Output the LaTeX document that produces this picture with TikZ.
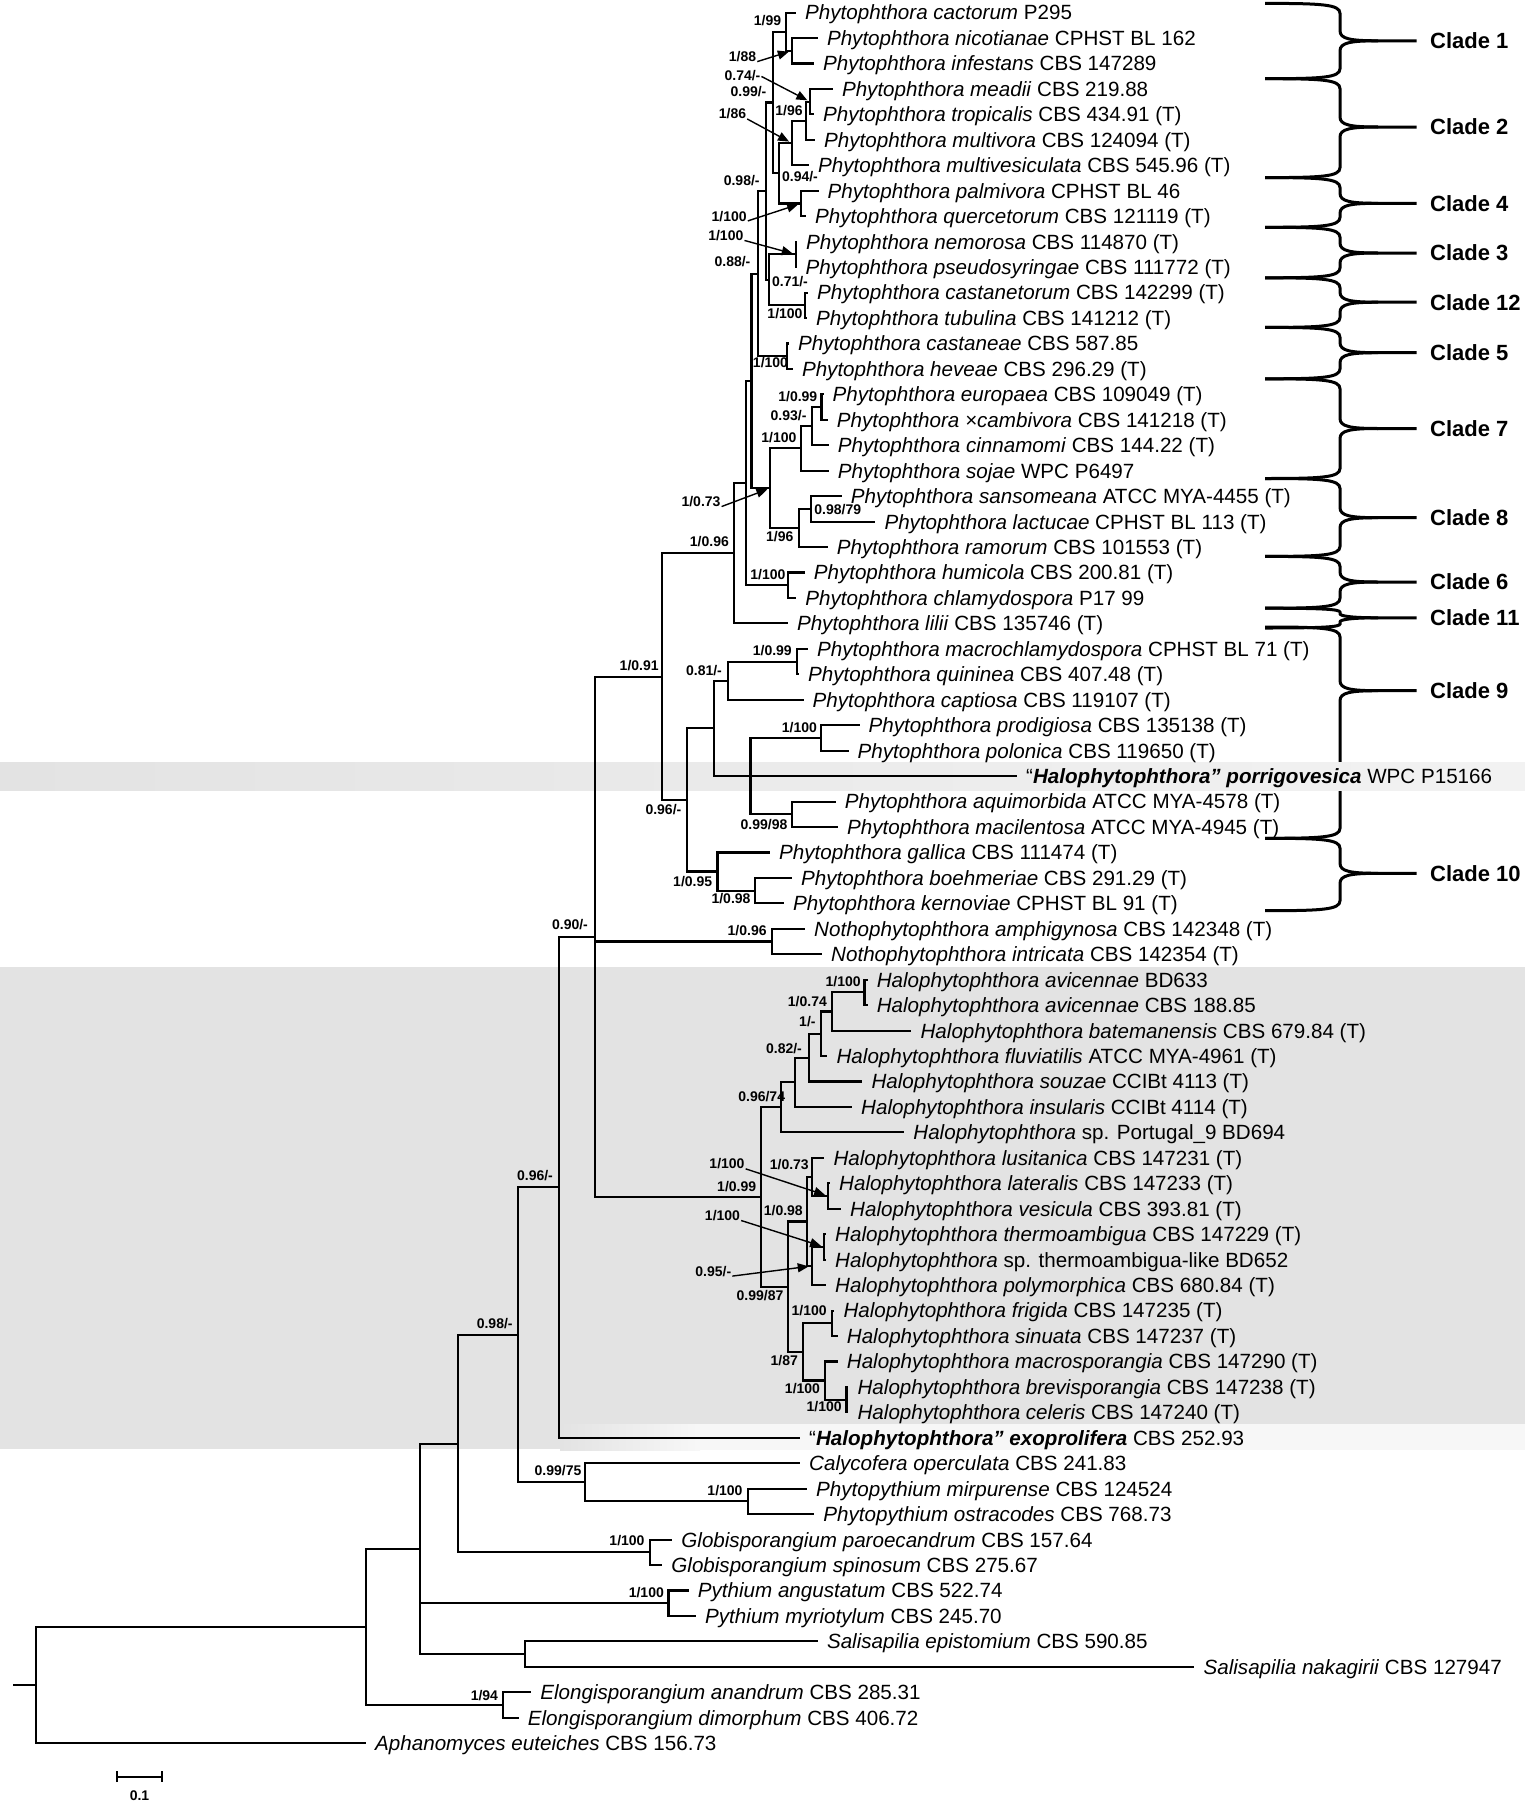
\documentclass[tikz,border=0pt]{standalone}
\usepackage{fontspec}
\setmainfont{Liberation Sans}
\usepackage{tikz}
\usetikzlibrary{arrows.meta}

\tikzset{
  br/.style={line width=2.1pt},
  taxon/.style={anchor=west, inner xsep=9pt, inner ysep=0pt, text height=14.8pt, text depth=0pt, font=\fontsize{20.6}{24}\selectfont},
  sup/.style={inner sep=0pt, text height=10pt, text depth=0pt, font=\bfseries\fontsize{14}{16}\selectfont},
  ptr/.style={-{Triangle[length=11pt,width=9pt]}, line width=1.4pt, shorten >=3pt, shorten <=1pt},
  brc/.style={line width=3pt},
  clade/.style={anchor=west, inner sep=0pt, font=\bfseries\fontsize{22}{24}\selectfont},
  band/.style={fill=gray!22}
}

\begin{document}
\begin{tikzpicture}[x=1pt,y=-1pt]
\useasboundingbox (0,0) rectangle (1525,1801);

        % Clade braces
\foreach \t/\m/\b/\c/\r in {3.4/40.8/78.7/1/10, 78.7/127/177.6/2/10, 177.6/203.3/227.3/4/10,
    227.3/253/277.8/3/10, 277.8/302.2/327.4/12/10, 327.4/352.7/378.8/5/10,
    378.8/428.5/478.5/7/10, 478.5/517.7/556.4/8/10, 556.4/582/608.2/6/10,
    608.2/617.8/628/11/4, 627/690.7/838.3/9/10, 838.3/873.3/910.7/10/10}{
  \draw[brc] (1265,\t) .. controls (1322,\t) and (1340,\t+1) .. (1340,\t+\r) -- (1340,\m-\r)
     .. controls (1340,\m-2) and (1350,\m) .. (1378,\m) -- (1416.7,\m);
  \draw[brc] (1265,\b) .. controls (1322,\b) and (1340,\b-1) .. (1340,\b-\r) -- (1340,\m+\r)
     .. controls (1340,\m+2) and (1350,\m) .. (1378,\m);
  \node[clade] (cl\c) at (1430,\m) {Clade \c};
}

        % Shaded bands
\shade[left color=gray!22, right color=gray!10] (0,762) rectangle (1525,790);
\fill[band] (0,967) rectangle (1525,1449);
\shade[left color=gray!22, right color=gray!6] (560,1424) rectangle (700,1450);
\fill[gray!6] (700,1424) rectangle (1525,1450);

        % Taxa
\node[taxon] (cact) at (796,12.6) {\textit{Phytophthora cactorum} P295};
\node[taxon] (nico) at (817.8,38.05) {\textit{Phytophthora nicotianae} CPHST BL 162};
\node[taxon] (infe) at (814,63.5) {\textit{Phytophthora infestans} CBS 147289};
\node[taxon] (mead) at (832.8,88.95) {\textit{Phytophthora meadii} CBS 219.88};
\node[taxon] (trop) at (814,114.4) {\textit{Phytophthora tropicalis} CBS 434.91 (T)};
\node[taxon] (mvor) at (815,139.85) {\textit{Phytophthora multivora} CBS 124094 (T)};
\node[taxon] (mves) at (809,165.3) {\textit{Phytophthora multivesiculata} CBS 545.96 (T)};
\node[taxon] (palm) at (818.5,190.75) {\textit{Phytophthora palmivora} CPHST BL 46};
\node[taxon] (quer) at (806,216.2) {\textit{Phytophthora quercetorum} CBS 121119 (T)};
\node[taxon] (nemo) at (797,241.65) {\textit{Phytophthora nemorosa} CBS 114870 (T)};
\node[taxon] (pseu) at (796.4,267.1) {\textit{Phytophthora pseudosyringae} CBS 111772 (T)};
\node[taxon] (cane) at (808,292.55) {\textit{Phytophthora castanetorum} CBS 142299 (T)};
\node[taxon] (tubu) at (807,318) {\textit{Phytophthora tubulina} CBS 141212 (T)};
\node[taxon] (cast) at (789,343.45) {\textit{Phytophthora castaneae} CBS 587.85};
\node[taxon] (heve) at (792.8,368.9) {\textit{Phytophthora heveae} CBS 296.29 (T)};
\node[taxon] (euro) at (823.5,394.35) {\textit{Phytophthora europaea} CBS 109049 (T)};
\node[taxon] (camb) at (827.7,419.8) {\textit{Phytophthora ×cambivora} CBS 141218 (T)};
\node[taxon] (cinn) at (828.6,445.25) {\textit{Phytophthora cinnamomi} CBS 144.22 (T)};
\node[taxon] (soja) at (828.6,470.7) {\textit{Phytophthora sojae} WPC P6497};
\node[taxon] (sans) at (841.6,496.15) {\textit{Phytophthora sansomeana} ATCC MYA-4455 (T)};
\node[taxon] (lact) at (875.3,521.6) {\textit{Phytophthora lactucae} CPHST BL 113 (T)};
\node[taxon] (ramo) at (827.7,547.05) {\textit{Phytophthora ramorum} CBS 101553 (T)};
\node[taxon] (humi) at (804.6,572.5) {\textit{Phytophthora humicola} CBS 200.81 (T)};
\node[taxon] (chla) at (796.2,597.95) {\textit{Phytophthora chlamydospora} P17 99};
\node[taxon] (lili) at (787.8,623.4) {\textit{Phytophthora lilii} CBS 135746 (T)};
\node[taxon] (macr) at (808,648.85) {\textit{Phytophthora macrochlamydospora} CPHST BL 71 (T)};
\node[taxon] (quin) at (799,674.3) {\textit{Phytophthora quininea} CBS 407.48 (T)};
\node[taxon] (capt) at (803.5,699.75) {\textit{Phytophthora captiosa} CBS 119107 (T)};
\node[taxon] (prod) at (859.5,725.2) {\textit{Phytophthora prodigiosa} CBS 135138 (T)};
\node[taxon] (polo) at (848.5,750.65) {\textit{Phytophthora polonica} CBS 119650 (T)};
\node[taxon] (porr) at (1017,776.1) {“\textbf{\textit{Halophytophthora” porrigovesica}} WPC P15166};
\node[taxon] (aqui) at (835.7,801.55) {\textit{Phytophthora aquimorbida} ATCC MYA-4578 (T)};
\node[taxon] (maci) at (838,827) {\textit{Phytophthora macilentosa} ATCC MYA-4945 (T)};
\node[taxon] (gall) at (770,852.45) {\textit{Phytophthora gallica} CBS 111474 (T)};
\node[taxon] (boeh) at (792,877.9) {\textit{Phytophthora boehmeriae} CBS 291.29 (T)};
\node[taxon] (kern) at (783.8,903.35) {\textit{Phytophthora kernoviae} CPHST BL 91 (T)};
\node[taxon] (amph) at (805,928.8) {\textit{Nothophytophthora amphigynosa} CBS 142348 (T)};
\node[taxon] (intr) at (822,954.25) {\textit{Nothophytophthora intricata} CBS 142354 (T)};
\node[taxon] (avi1) at (867.6,979.7) {\textit{Halophytophthora avicennae} BD633};
\node[taxon] (avi2) at (867.6,1005.15) {\textit{Halophytophthora avicennae} CBS 188.85};
\node[taxon] (bate) at (911.4,1030.6) {\textit{Halophytophthora batemanensis} CBS 679.84 (T)};
\node[taxon] (fluv) at (827.4,1056.05) {\textit{Halophytophthora fluviatilis} ATCC MYA-4961 (T)};
\node[taxon] (souz) at (862.3,1081.5) {\textit{Halophytophthora souzae} CCIBt 4113 (T)};
\node[taxon] (insu) at (852,1106.95) {\textit{Halophytophthora insularis} CCIBt 4114 (T)};
\node[taxon] (port) at (904.2,1132.4) {\textit{Halophytophthora} sp. Portugal\_9 BD694};
\node[taxon] (lusi) at (824.3,1157.85) {\textit{Halophytophthora lusitanica} CBS 147231 (T)};
\node[taxon] (late) at (830,1183.3) {\textit{Halophytophthora lateralis} CBS 147233 (T)};
\node[taxon] (vesi) at (841,1208.75) {\textit{Halophytophthora vesicula} CBS 393.81 (T)};
\node[taxon] (ther) at (826,1234.2) {\textit{Halophytophthora thermoambigua} CBS 147229 (T)};
\node[taxon] (thel) at (826,1259.65) {\textit{Halophytophthora} sp. thermoambigua-like BD652};
\node[taxon] (poly) at (826,1285.1) {\textit{Halophytophthora polymorphica} CBS 680.84 (T)};
\node[taxon] (frig) at (834.3,1310.55) {\textit{Halophytophthora frigida} CBS 147235 (T)};
\node[taxon] (sinu) at (837.7,1336) {\textit{Halophytophthora sinuata} CBS 147237 (T)};
\node[taxon] (masp) at (837.7,1361.45) {\textit{Halophytophthora macrosporangia} CBS 147290 (T)};
\node[taxon] (brev) at (848.4,1386.9) {\textit{Halophytophthora brevisporangia} CBS 147238 (T)};
\node[taxon] (cele) at (848.4,1412.35) {\textit{Halophytophthora celeris} CBS 147240 (T)};
\node[taxon] (exop) at (800,1437.8) {“\textbf{\textit{Halophytophthora” exoprolifera}} CBS 252.93};
\node[taxon] (caly) at (800,1463.25) {\textit{Calycofera operculata} CBS 241.83};
\node[taxon] (mirp) at (807,1488.7) {\textit{Phytopythium mirpurense} CBS 124524};
\node[taxon] (ostr) at (814.2,1514.15) {\textit{Phytopythium ostracodes} CBS 768.73};
\node[taxon] (paro) at (672.2,1539.6) {\textit{Globisporangium paroecandrum} CBS 157.64};
\node[taxon] (spin) at (662.2,1565.05) {\textit{Globisporangium spinosum} CBS 275.67};
\node[taxon] (angu) at (688.7,1590.5) {\textit{Pythium angustatum} CBS 522.74};
\node[taxon] (myri) at (696,1615.95) {\textit{Pythium myriotylum} CBS 245.70};
\node[taxon] (epis) at (817.8,1641.4) {\textit{Salisapilia epistomium} CBS 590.85};
\node[taxon] (naka) at (1194.4,1666.85) {\textit{Salisapilia nakagirii} CBS 127947};
\node[taxon] (anan) at (531.2,1692.3) {\textit{Elongisporangium anandrum} CBS 285.31};
\node[taxon] (dimo) at (518.7,1717.75) {\textit{Elongisporangium dimorphum} CBS 406.72};
\node[taxon] (apha) at (366,1743.2) {\textit{Aphanomyces euteiches} CBS 156.73};

        % Internal nodes
\coordinate (n1b) at (791.7,50.8);
\coordinate (n1) at (785.7,31.7);
\coordinate (n2c) at (810,101.7);
\coordinate (n2b) at (805.7,120.8);
\coordinate (n2) at (791.7,143.05);
\coordinate (n4) at (801,203.5);
\coordinate (n24) at (779.3,173.3);
\coordinate (n124) at (772.7,102.5);
\coordinate (n3) at (795.7,254.4);
\coordinate (n12) at (805,305.3);
\coordinate (n312) at (769.3,279.85);
\coordinate (nL) at (766,191.2);
\coordinate (n5) at (787,356.2);
\coordinate (nU) at (758.3,273.7);
\coordinate (n7c) at (821.5,407.1);
\coordinate (n7b) at (812.3,426.2);
\coordinate (n7) at (801,448.4);
\coordinate (n8b) at (810.7,508.9);
\coordinate (n8) at (798.9,528);
\coordinate (n78) at (770.3,488.2);
\coordinate (nT) at (751.5,380.95);
\coordinate (n6) at (788.4,585.2);
\coordinate (nQ) at (746.3,483.1);
\coordinate (nP) at (733.6,553.25);
\coordinate (n9c) at (797,661.6);
\coordinate (n9b) at (727.6,680.7);
\coordinate (n9e) at (820.8,737.9);
\coordinate (n9f) at (791.9,814.3);
\coordinate (n9d) at (750.5,776.1);
\coordinate (n9) at (713.8,728.4);
\coordinate (n10b) at (755.1,890.6);
\coordinate (n10) at (717.5,871.5);
\coordinate (n910) at (687.3,800);
\coordinate (nPhy) at (662,676.6);
\coordinate (nNoth) at (772.1,941.5);
\coordinate (h1) at (864.5,992.4);
\coordinate (h2) at (832,1011.5);
\coordinate (h3) at (820.8,1033.8);
\coordinate (h4) at (808.8,1057.6);
\coordinate (h5) at (795.4,1082.3);
\coordinate (h6) at (780.6,1107.35);
\coordinate (h8) at (828,1196);
\coordinate (h7) at (811.7,1176.9);
\coordinate (h10) at (824,1246.9);
\coordinate (h9) at (811.7,1266);
\coordinate (hB1) at (806.7,1221.5);
\coordinate (h12) at (831.7,1323.3);
\coordinate (h14) at (846.5,1399.6);
\coordinate (h13) at (825,1380.5);
\coordinate (h11) at (802.7,1351.9);
\coordinate (hZ) at (788.3,1286.7);
\coordinate (nHalo) at (761,1197);
\coordinate (nLL) at (595,936.8);
\coordinate (nMM) at (559.3,1187.3);
\coordinate (nPhp) at (748,1501.4);
\coordinate (nOO) at (585,1482.3);
\coordinate (nNN) at (518,1334.8);
\coordinate (nGlo) at (650,1552.3);
\coordinate (nPP) at (458,1443.6);
\coordinate (nPyt) at (668.5,1603.2);
\coordinate (nSal) at (524.6,1654.1);
\coordinate (nRR) at (419.6,1548.9);
\coordinate (nElo) at (503.1,1705);
\coordinate (nSS) at (366,1627);
\coordinate (nRoot) at (35.7,1685.1);
\coordinate (stub) at (13.4,1685.1);

        % Branches
\draw[br] (n1) |- (cact.west) (n1) |- (n1b);
\draw[br] (n1b) |- (nico.west) (n1b) |- (infe.west);
\draw[br] (n2c) |- (mead.west) (n2c) |- (trop.west);
\draw[br] (n2b) |- (n2c) (n2b) |- (mvor.west);
\draw[br] (n2) |- (n2b) (n2) |- (mves.west);
\draw[br] (n4) |- (palm.west) (n4) |- (quer.west);
\draw[br] (n24) |- (n2) (n24) |- (n4);
\draw[br] (n124) |- (n1) (n124) |- (n24);
\draw[br] (n3) |- (nemo.west) (n3) |- (pseu.west);
\draw[br] (n12) |- (cane.west) (n12) |- (tubu.west);
\draw[br] (n312) |- (n3) (n312) |- (n12);
\draw[br] (nL) |- (n124) (nL) |- (n312);
\draw[br] (n5) |- (cast.west) (n5) |- (heve.west);
\draw[br] (nU) |- (nL) (nU) |- (n5);
\draw[br] (n7c) |- (euro.west) (n7c) |- (camb.west);
\draw[br] (n7b) |- (n7c) (n7b) |- (cinn.west);
\draw[br] (n7) |- (n7b) (n7) |- (soja.west);
\draw[br] (n8b) |- (sans.west) (n8b) |- (lact.west);
\draw[br] (n8) |- (n8b) (n8) |- (ramo.west);
\draw[br] (n78) |- (n7) (n78) |- (n8);
\draw[br] (nT) |- (nU) (nT) |- (n78);
\draw[br] (n6) |- (humi.west) (n6) |- (chla.west);
\draw[br] (nQ) |- (nT) (nQ) |- (n6);
\draw[br] (nP) |- (nQ) (nP) |- (lili.west);
\draw[br] (n9c) |- (macr.west) (n9c) |- (quin.west);
\draw[br] (n9b) |- (n9c) (n9b) |- (capt.west);
\draw[br] (n9e) |- (prod.west) (n9e) |- (polo.west);
\draw[br] (n9f) |- (aqui.west) (n9f) |- (maci.west);
\draw[br] (n9d) |- (n9e) (n9d) |- (n9f);
\draw[br] (n9) |- (n9b) (n9) |- (porr.west) (n9) |- (n9d);
\draw[br] (n10b) |- (boeh.west) (n10b) |- (kern.west);
\draw[br] (n10) |- (gall.west) (n10) |- (n10b);
\draw[br] (n910) |- (n9) (n910) |- (n10);
\draw[br] (nPhy) |- (nP) (nPhy) |- (n910);
\draw[br] (nNoth) |- (amph.west) (nNoth) |- (intr.west);
\draw[br] (h1) |- (avi1.west) (h1) |- (avi2.west);
\draw[br] (h2) |- (h1) (h2) |- (bate.west);
\draw[br] (h3) |- (h2) (h3) |- (fluv.west);
\draw[br] (h4) |- (h3) (h4) |- (souz.west);
\draw[br] (h5) |- (h4) (h5) |- (insu.west);
\draw[br] (h6) |- (h5) (h6) |- (port.west);
\draw[br] (h8) |- (late.west) (h8) |- (vesi.west);
\draw[br] (h7) |- (lusi.west) (h7) |- (h8);
\draw[br] (h10) |- (ther.west) (h10) |- (thel.west);
\draw[br] (h9) |- (h10) (h9) |- (poly.west);
\draw[br] (hB1) |- (h7) (hB1) |- (h9);
\draw[br] (h12) |- (frig.west) (h12) |- (sinu.west);
\draw[br] (h14) |- (brev.west) (h14) |- (cele.west);
\draw[br] (h13) |- (masp.west) (h13) |- (h14);
\draw[br] (h11) |- (h12) (h11) |- (h13);
\draw[br] (hZ) |- (hB1) (hZ) |- (h11);
\draw[br] (nHalo) |- (h6) (nHalo) |- (hZ);
\draw[br] (nLL) |- (nPhy) (nLL) |- (nNoth) (nLL) |- (nHalo);
\draw[br] (nMM) |- (nLL) (nMM) |- (exop.west);
\draw[br] (nPhp) |- (mirp.west) (nPhp) |- (ostr.west);
\draw[br] (nOO) |- (caly.west) (nOO) |- (nPhp);
\draw[br] (nNN) |- (nMM) (nNN) |- (nOO);
\draw[br] (nGlo) |- (paro.west) (nGlo) |- (spin.west);
\draw[br] (nPP) |- (nNN) (nPP) |- (nGlo);
\draw[br] (nPyt) |- (angu.west) (nPyt) |- (myri.west);
\draw[br] (nSal) |- (epis.west) (nSal) |- (naka.west);
\draw[br] (nRR) |- (nPP) (nRR) |- (nPyt) (nRR) |- (nSal);
\draw[br] (nElo) |- (anan.west) (nElo) |- (dimo.west);
\draw[br] (nSS) |- (nRR) (nSS) |- (nElo);
\draw[br] (nRoot) |- (nSS) (nRoot) |- (apha.west);
\draw[br] (stub) -- (nRoot);

        % Support values
\node[sup] (ln1) at (767.5,20.7) {1/99};
\node[sup] (ln1b) at (742.5,56.7) {1/88};
\node[sup] (ln2c) at (742.5,76) {0.74/-};
\node[sup] (ln124) at (748.5,91.7) {0.99/-};
\node[sup] (ln2b) at (789,110) {1/96};
\node[sup] (ln2) at (732.5,113.3) {1/86};
\node[sup] (ln24) at (800,176.7) {0.94/-};
\node[sup] (lnL) at (741.7,180) {0.98/-};
\node[sup] (ln4) at (729.2,216) {1/100};
\node[sup] (ln3) at (725.8,235) {1/100};
\node[sup] (lnT) at (732.5,261.7) {0.88/-};
\node[sup] (ln312) at (790,281.7) {0.71/-};
\node[sup] (ln12) at (785,313.3) {1/100};
\node[sup] (ln5) at (770.5,362.7) {1/100};
\node[sup] (ln7c) at (797.8,396) {1/0.99};
\node[sup] (ln7b) at (788.6,415) {0.93/-};
\node[sup] (ln7) at (778.9,437.3) {1/100};
\node[sup] (ln78) at (701,501.7) {1/0.73};
\node[sup] (ln8b) at (837.8,509.3) {0.98/79};
\node[sup] (ln8) at (779.7,536.7) {1/96};
\node[sup] (lnP) at (709.4,541.7) {1/0.96};
\node[sup] (ln6) at (767.9,574) {1/100};
\node[sup] (ln9c) at (772.3,650.7) {1/0.99};
\node[sup] (lnPhy) at (639.2,665) {1/0.91};
\node[sup] (ln9b) at (704,670) {0.81/-};
\node[sup] (ln9e) at (799.4,727.3) {1/100};
\node[sup] (ln910) at (663.4,809.3) {0.96/-};
\node[sup] (ln9f) at (764,824) {0.99/98};
\node[sup] (ln10) at (692.7,881.7) {1/0.95};
\node[sup] (ln10b) at (731,898.3) {1/0.98};
\node[sup] (lnNoth) at (747.1,930) {1/0.96};
\node[sup] (lnLL) at (570,924.6) {0.90/-};
\node[sup] (lnMM) at (535,1175) {0.96/-};
\node[sup] (lnNN) at (494.7,1323) {0.98/-};
\node[sup] (lh1) at (843.2,981.7) {1/100};
\node[sup] (lh2) at (807.4,1001.7) {1/0.74};
\node[sup] (lh3) at (807.4,1021.7) {1/-};
\node[sup] (lh4) at (784,1048.3) {0.82/-};
\node[sup] (lh6) at (761.7,1096.7) {0.96/74};
\node[sup] (lh8) at (727,1163.3) {1/100};
\node[sup] (lh7) at (789.3,1164.5) {1/0.73};
\node[sup] (lHalo) at (736.7,1186.7) {1/0.99};
\node[sup] (lhB1) at (783.3,1210) {1/0.98};
\node[sup] (lh10) at (722.5,1215) {1/100};
\node[sup] (lh9) at (713.3,1271) {0.95/-};
\node[sup] (lhZ) at (760,1295) {0.99/87};
\node[sup] (lh12) at (809.2,1310.7) {1/100};
\node[sup] (lh11) at (784.2,1360) {1/87};
\node[sup] (lh13) at (802.5,1388.3) {1/100};
\node[sup] (lh14) at (824.2,1406.7) {1/100};
\node[sup] (lnOO) at (558,1470.7) {0.99/75};
\node[sup] (lnPhp) at (725,1490) {1/100};
\node[sup] (lnGlo) at (627,1540) {1/100};
\node[sup] (lnPyt) at (646.3,1592) {1/100};
\node[sup] (lnElo) at (484.4,1695) {1/94};

        % Pointers from support values to nodes
\draw[ptr] (ln1b.south east) -- (n1b);
\draw[ptr] (ln2c.east) -- (n2c);
\draw[ptr] (ln2.south east) -- (n2);
\draw[ptr] (ln4.south east) -- (n4);
\draw[ptr] (ln3.south east) -- (n3);
\draw[ptr] (ln78.south east) -- (n78);
\draw[ptr] (lh8.south east) -- (h8);
\draw[ptr] (lh10.south east) -- (h10);
\draw[ptr] (lh9.south east) -- (h9);

        % Scale bar
\coordinate (sbL) at (116,1776.7);
\coordinate (sbR) at (163,1776.7);
\draw[br, {Bar[width=11pt]}-{Bar[width=11pt]}] (sbL) -- (sbR);
\node[sup] (sbt) at (139.5,1795) {0.1};
\end{tikzpicture}
\end{document}
